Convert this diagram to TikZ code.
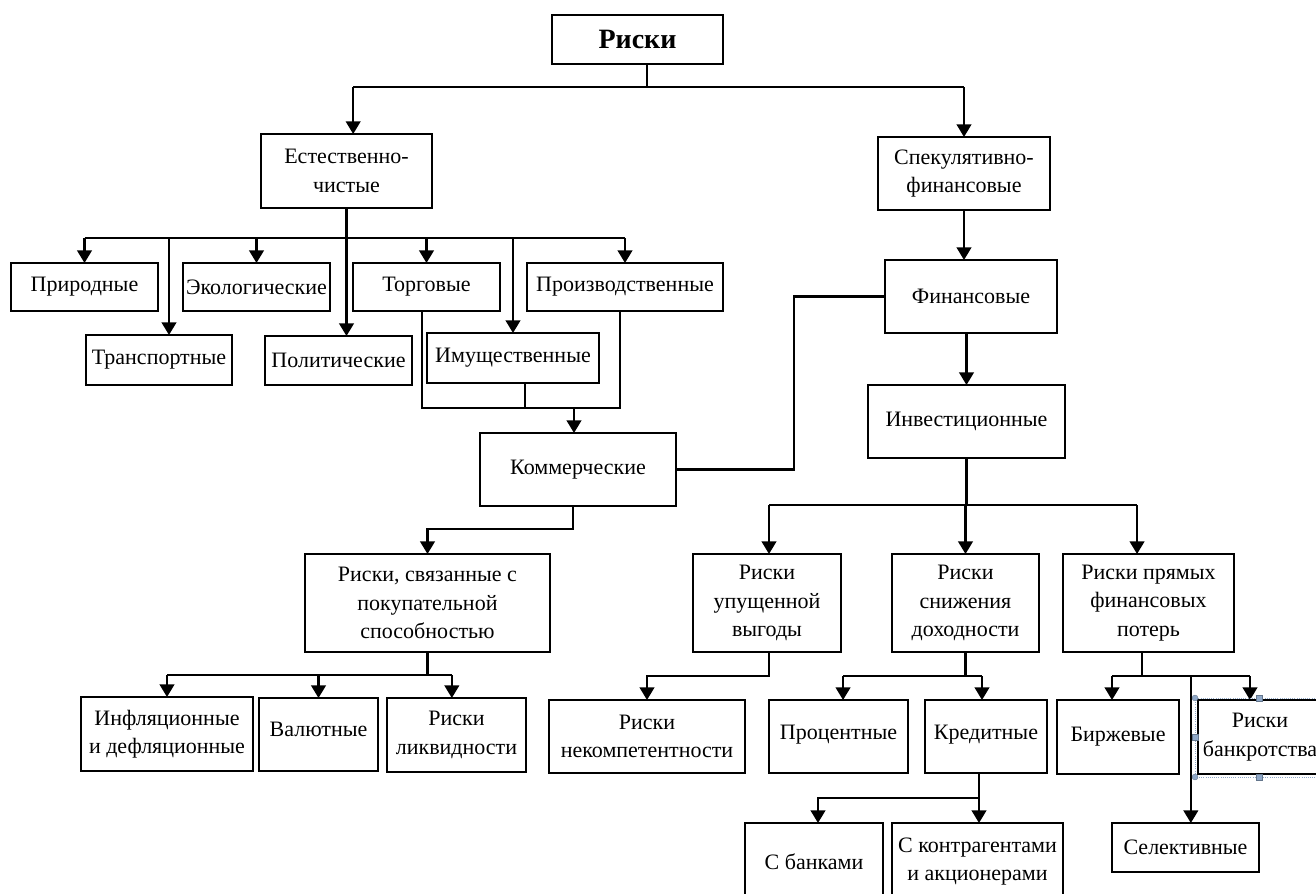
\documentclass[tikz,border=0pt]{standalone}
\usepackage{fontspec}
\setmainfont{Liberation Serif}
\usetikzlibrary{arrows.meta,calc}
\tikzset{
  box/.style={draw,line width=1.6pt,inner sep=0pt,outer sep=0pt,align=center,font=\fontsize{16.5}{21.2}\selectfont},
  line/.style={line width=1.6pt},
  arr/.style={line width=1.6pt,-{Triangle[length=9.5pt,width=11pt]}},
  selbox/.style={draw=selblue,densely dotted,line width=0.6pt},
  handle/.style={fill=selblue,draw=selblue!70!black,line width=0.3pt}
}
\definecolor{selblue}{HTML}{8FA8C8}
\newcommand\bx[6]{\node[box,minimum width={(#3-#1)*0.75pt},minimum height={(#4-#2)*0.75pt}] (#5) at ({(#1+#3)/2},{(#2+#4)/2}) {#6};}
\begin{document}
\begin{tikzpicture}[x=0.75pt,y=-0.75pt]
\useasboundingbox (0,0) rectangle (1316,893);
\clip (0,0) rectangle (1316,893);
\fill[white] (0,0) rectangle (1316,893);
% nodes
\bx{552}{15}{723}{64}{riski}{\fontsize{21}{25}\selectfont\bfseries Риски}
\bx{261}{134}{432}{208}{est}{Естественно-\\чистые}
\bx{878}{137}{1050}{210}{spek}{Спекулятивно-\\финансовые}
\bx{885}{260}{1057}{333}{fin}{Финансовые}
\bx{868}{385}{1065}{458}{inv}{Инвестиционные}
\bx{11}{263}{158}{311}{prir}{Природные}
\bx{86}{335}{232}{385}{trans}{Транспортные}
\bx{183}{263}{330}{311}{ekol}{Экологические}
\bx{265}{336}{412}{385}{polit}{Политические}
\bx{353}{263}{500}{311}{torg}{Торговые}
\bx{427}{333}{599}{383}{imush}{Имущественные}
\bx{527}{263}{723}{311}{proizv}{Производственные}
\bx{480}{433}{676}{506}{komm}{Коммерческие}
\bx{305}{554}{550}{652}{pokup}{Риски, связанные с\\покупательной\\способностью}
\bx{81}{697}{253}{771}{infl}{Инфляционные\\и дефляционные}
\bx{259}{698}{378}{771}{val}{\raisebox{8pt}{Валютные}}
\bx{387}{698}{526}{772}{likv}{Риски\\ликвидности}
\bx{693}{554}{841}{652}{upush}{Риски\\упущенной\\выгоды}
\bx{892}{554}{1039}{652}{snizh}{Риски\\снижения\\доходности}
\bx{1063}{554}{1234}{652}{pryam}{Риски прямых\\финансовых\\потерь}
\bx{549}{700}{745}{773}{nekomp}{Риски\\некомпетентности}
\bx{769}{700}{908}{773}{proc}{\raisebox{6pt}{Процентные}}
\bx{925}{700}{1047}{773}{kred}{\raisebox{6pt}{Кредитные}}
\bx{745}{823}{883}{900}{bank}{С банками}
\bx{892}{823}{1063}{900}{kontr}{С контрагентами\\и акционерами}
\bx{1057}{700}{1179}{774}{birzh}{Биржевые}
\bx{1198}{700}{1322}{774}{bankr}{Риски\\банкротства}
\bx{1112}{823}{1259}{872}{selekt}{Селективные}
% top level
\draw[line] ([xshift=7pt]riski.south) -- ++(0,23) coordinate (t1);
\draw[line] ([xshift=5pt]est.north |- t1) -- (spek.north |- t1);
\draw[arr] ([xshift=5pt]est.north |- t1) -- ([xshift=5pt]est.north);
\draw[arr] (spek.north |- t1) -- (spek.north);
% Естественно-чистые
\draw[line] (est.south) -- ++(0,30) coordinate (h1);
\draw[line] (prir.north |- h1) -- (proizv.north |- h1);
\draw[arr] (prir.north |- h1) -- (prir.north);
\draw[arr] ([xshift=7.5pt]trans.north |- h1) -- ([xshift=7.5pt]trans.north);
\draw[arr] (ekol.north |- h1) -- (ekol.north);
\draw[arr] (est.south) -- (est.south |- polit.north);
\draw[arr] (torg.north |- h1) -- (torg.north);
\draw[arr] (imush.north |- h1) -- (imush.north);
\draw[arr] (proizv.north |- h1) -- (proizv.north);
% merge to Коммерческие
\coordinate (m) at (574,408);
\draw[line] ([xshift=-3.5pt]torg.south) |- (m) -| ([xshift=-3.75pt]proizv.south);
\draw[line] ([xshift=9pt]imush.south) -- ([xshift=9pt]imush.south |- m);
\draw[arr] (m) -- (m |- komm.north);
\draw[line] (komm.east) -- ++(118,0) |- (fin.west);
% Коммерческие -> покупательной
\draw[arr] ([xshift=-3.75pt]komm.south) -- ++(0,23) -| (pokup.north);
\draw[line] (pokup.south) -- ++(0,23) coordinate (h2);
\draw[line] (infl.north |- h2) -- ([xshift=-3.5pt]likv.north |- h2);
\draw[arr] (infl.north |- h2) -- (infl.north);
\draw[arr] (val.north |- h2) -- (val.north);
\draw[arr] ([xshift=-3.5pt]likv.north |- h2) -- ([xshift=-3.5pt]likv.north);
% right branch
\draw[arr] (spek.south) -- (spek.south |- fin.north);
\draw[arr] (inv.north |- fin.south) -- (inv.north);
\draw[line] (inv.south) -- ++(0,47) coordinate (h3);
\draw[line] ([xshift=1.5pt]upush.north |- h3) -- ([xshift=-8.6pt]pryam.north |- h3);
\draw[arr] ([xshift=1.5pt]upush.north |- h3) -- ([xshift=1.5pt]upush.north);
\draw[arr] (snizh.north |- h3) -- (snizh.north);
\draw[arr] ([xshift=-8.6pt]pryam.north |- h3) -- ([xshift=-8.6pt]pryam.north);
% упущенной
\draw[arr] ([xshift=1.5pt]upush.south) -- ++(0,24) -| (nekomp.north);
% снижения
\draw[line] (snizh.south) -- ++(0,24) coordinate (h4);
\draw[line] ([xshift=3.4pt]proc.north |- h4) -- ([xshift=-3pt]kred.north |- h4);
\draw[arr] ([xshift=3.4pt]proc.north |- h4) -- ([xshift=3.4pt]proc.north);
\draw[arr] ([xshift=-3pt]kred.north |- h4) -- ([xshift=-3pt]kred.north);
% кредитные
\draw[line] ([xshift=-5.25pt]kred.south) -- ++(0,25) coordinate (h5);
\draw[arr] (h5) -- (h5 |- kontr.north);
\draw[arr] (h5) -| ([xshift=3pt]bank.north);
% прямых
\draw[line] ([xshift=-4.9pt]pryam.south) -- ++(0,24) coordinate (h6);
\draw[line] ([xshift=-4.5pt]birzh.north |- h6) -- ([xshift=-7.5pt]bankr.north |- h6);
\draw[arr] ([xshift=-4.5pt]birzh.north |- h6) -- ([xshift=-4.5pt]birzh.north);
\draw[arr] ([xshift=-7.5pt]bankr.north |- h6) -- ([xshift=-7.5pt]bankr.north);
\draw[arr] ([xshift=4pt]selekt.north |- h6) -- ([xshift=4pt]selekt.north);
% selection frame around Риски банкротства
\draw[selbox] (1195,698) rectangle (1340,777);
\foreach \p in {(1195,698),(1195,777)} \fill[handle] \p circle (2.2pt);
\foreach \p in {(1259,698),(1195,737),(1259,777)} \fill[handle] \p ++(-2.2pt,-2.2pt) rectangle ++(4.4pt,4.4pt);
\end{tikzpicture}
\end{document}
